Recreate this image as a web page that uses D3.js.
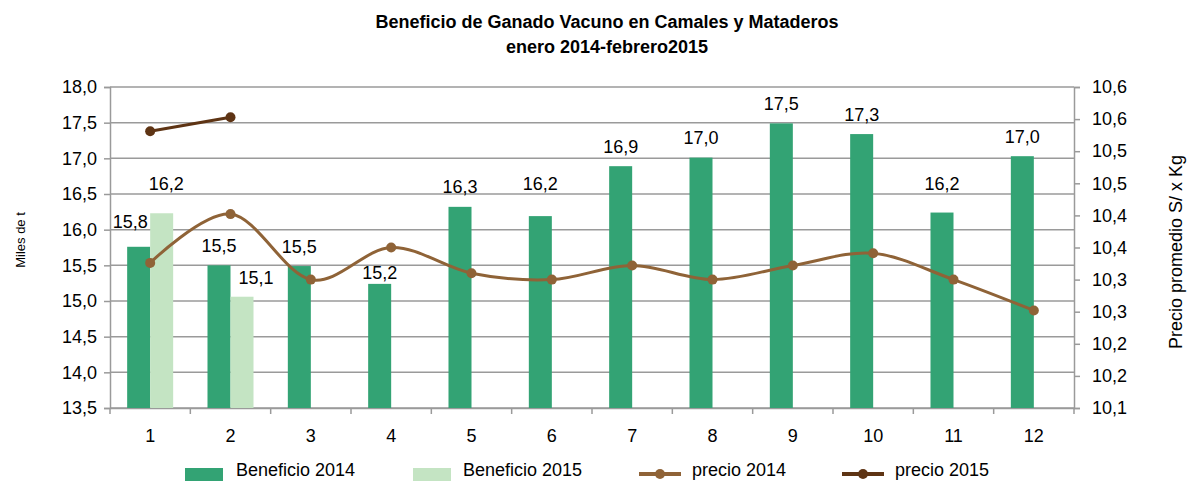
<!DOCTYPE html>
<html>
<head>
<meta charset="utf-8">
<script src="https://cdn.jsdelivr.net/npm/d3@7"></script>
<style>
  body { margin: 0; background: #fff; }
  svg { display: block; font-family: "Liberation Sans", Arial, sans-serif; }
</style>
</head>
<body>
<svg id="chart" width="1187" height="481"></svg>
<script>
// ---- data ----
const categories = ["1","2","3","4","5","6","7","8","9","10","11","12"];
const beneficio2014 = [15.76, 15.50, 15.49, 15.24, 16.32, 16.19, 16.89, 17.01, 17.49, 17.34, 16.24, 17.03];
const beneficio2015 = [16.23, 15.06];
const precio2014 = [10.326, 10.402, 10.300, 10.350, 10.310, 10.300, 10.322, 10.300, 10.322, 10.341, 10.300, 10.252];
const precio2015 = [10.531, 10.553];
const leftTicks = [13.5, 14.0, 14.5, 15.0, 15.5, 16.0, 16.5, 17.0, 17.5, 18.0];
const rightTicks = [10.10, 10.15, 10.20, 10.25, 10.30, 10.35, 10.40, 10.45, 10.50, 10.55, 10.60];
const rightTickLabels = ["10,1","10,2","10,2","10,3","10,3","10,4","10,4","10,5","10,5","10,6","10,6"];
const seriesNames = ["Beneficio 2014", "Beneficio 2015", "precio 2014", "precio 2015"];
const titleLines = ["Beneficio de Ganado Vacuno en Camales y Mataderos", "enero 2014-febrero2015"];

// ---- styles ----
const C = {
  bar14: "#33a374", bar15: "#c4e4c3",
  line14: "#8f6337", line15: "#5e3414",
  grid: "#9a9a9a", text: "#000"
};

const svg = d3.select("#chart");
const L = 110, R = 1074, T = 87, B = 408;

const loc = d3.formatLocale({decimal: ",", thousands: ".", grouping: [3], currency: ["", ""]});
const f1 = loc.format(".1f");

const x0 = d3.scaleBand().domain(categories).range([L, R]).padding(0);
const x1 = d3.scaleBand().domain(["2014", "2015"]).range([0, x0.bandwidth()]).paddingInner(0).paddingOuter(0.746);
const yL = d3.scaleLinear().domain([13.5, 18]).range([B, T]);
const yR = d3.scaleLinear().domain([10.1, 10.6]).range([B, T]);
const cx = c => x0(c) + x0.bandwidth() / 2;

// title
svg.append("g").selectAll("text").data(titleLines).join("text")
  .attr("x", 607).attr("y", (d, i) => 28 + i * 25)
  .attr("text-anchor", "middle").attr("font-weight", "bold").attr("font-size", 18)
  .attr("fill", C.text).text(d => d);

// gridlines
svg.append("g").selectAll("line").data(leftTicks).join("line")
  .attr("x1", L).attr("x2", R).attr("y1", d => yL(d)).attr("y2", d => yL(d))
  .attr("stroke", C.grid).attr("stroke-width", 1.5);

// left axis
const gL = svg.append("g").attr("transform", `translate(${L},0)`)
  .call(d3.axisLeft(yL).tickValues(leftTicks).tickFormat(f1).tickSize(6).tickPadding(7));
// right axis
const gR = svg.append("g").attr("transform", `translate(${R},0)`)
  .call(d3.axisRight(yR).tickValues(rightTicks).tickFormat((d, i) => rightTickLabels[i]).tickSize(6).tickPadding(12));
// bottom axis
const gB = svg.append("g").attr("transform", `translate(0,${B})`)
  .call(d3.axisBottom(x0).tickSize(0).tickPadding(21));
// category boundary ticks
svg.append("g").selectAll("line").data(categories.concat(["end"])).join("line")
  .attr("x1", (d, i) => L + i * x0.step()).attr("x2", (d, i) => L + i * x0.step())
  .attr("y1", B).attr("y2", B + 6).attr("stroke", C.grid).attr("stroke-width", 1.5);

[gL, gR, gB].forEach(g => {
  g.selectAll(".domain").attr("stroke", C.grid).attr("stroke-width", 1.5);
  g.selectAll(".tick line").attr("stroke", C.grid).attr("stroke-width", 1.5);
  g.selectAll(".tick text").attr("font-size", 18).attr("fill", C.text)
    .attr("font-family", "'Liberation Sans', Arial, sans-serif");
});

// axis titles
svg.append("text").attr("transform", "translate(25,240) rotate(-90)")
  .attr("text-anchor", "middle").attr("font-size", 13).attr("fill", C.text).text("Miles de t");
svg.append("text").attr("transform", "translate(1182,252) rotate(-90)")
  .attr("text-anchor", "middle").attr("font-size", 18).attr("fill", C.text).text("Precio promedio S/ x Kg");

// bars
const bars14 = categories.map((c, i) => ({c, v: beneficio2014[i], s: "2014", i}));
const bars15 = beneficio2015.map((v, i) => ({c: categories[i], v, s: "2015", i}));
const allBars = bars14.concat(bars15);
svg.append("g").selectAll("rect").data(allBars).join("rect")
  .attr("x", d => x0(d.c) + x1(d.s)).attr("width", x1.bandwidth())
  .attr("y", d => yL(d.v)).attr("height", d => B - yL(d.v))
  .attr("fill", d => d.s === "2014" ? C.bar14 : C.bar15);

// bar labels (with manual nudges as in original)
const nudge = {"2014-0": [-8.5, -5], "2014-3": [0, 9], "2014-5": [0, -13], "2014-10": [0, -9],
               "2015-0": [4.5, -10], "2015-1": [14, 1]};
svg.append("g").selectAll("text").data(allBars).join("text")
  .attr("x", d => x0(d.c) + x1(d.s) + x1.bandwidth() / 2 + (nudge[d.s + "-" + d.i] || [0, 0])[0])
  .attr("y", d => yL(d.v) - 13.5 + (nudge[d.s + "-" + d.i] || [0, 0])[1])
  .attr("text-anchor", "middle").attr("font-size", 18).attr("fill", C.text)
  .text(d => f1(d.v));

// lines
const line = d3.line().x(d => cx(d.c)).y(d => yR(d.v)).curve(d3.curveCatmullRom.alpha(0));
const p14 = categories.map((c, i) => ({c, v: precio2014[i]}));
const p15 = precio2015.map((v, i) => ({c: categories[i], v}));
[[p14, C.line14], [p15, C.line15]].forEach(([data, col]) => {
  svg.append("path").datum(data).attr("d", line).attr("fill", "none")
    .attr("stroke", col).attr("stroke-width", 3);
  svg.append("g").selectAll("circle").data(data).join("circle")
    .attr("cx", d => cx(d.c)).attr("cy", d => yR(d.v)).attr("r", 5).attr("fill", col);
});

// legend
const lg = svg.append("g");
const legendX = [185, 413, 639, 842];
const textX = [236, 463, 692, 895];
seriesNames.forEach((name, i) => {
  if (i < 2) {
    lg.append("rect").attr("x", legendX[i]).attr("y", 468).attr("width", 38).attr("height", 13)
      .attr("fill", i === 0 ? C.bar14 : C.bar15);
  } else {
    const col = i === 2 ? C.line14 : C.line15;
    lg.append("line").attr("x1", legendX[i]).attr("x2", legendX[i] + 42).attr("y1", 474).attr("y2", 474)
      .attr("stroke", col).attr("stroke-width", 4);
    lg.append("circle").attr("cx", legendX[i] + 21).attr("cy", 474).attr("r", 5).attr("fill", col);
  }
  lg.append("text").attr("x", textX[i]).attr("y", 476).attr("font-size", 18).attr("fill", C.text).text(name);
});
</script>
</body>
</html>
